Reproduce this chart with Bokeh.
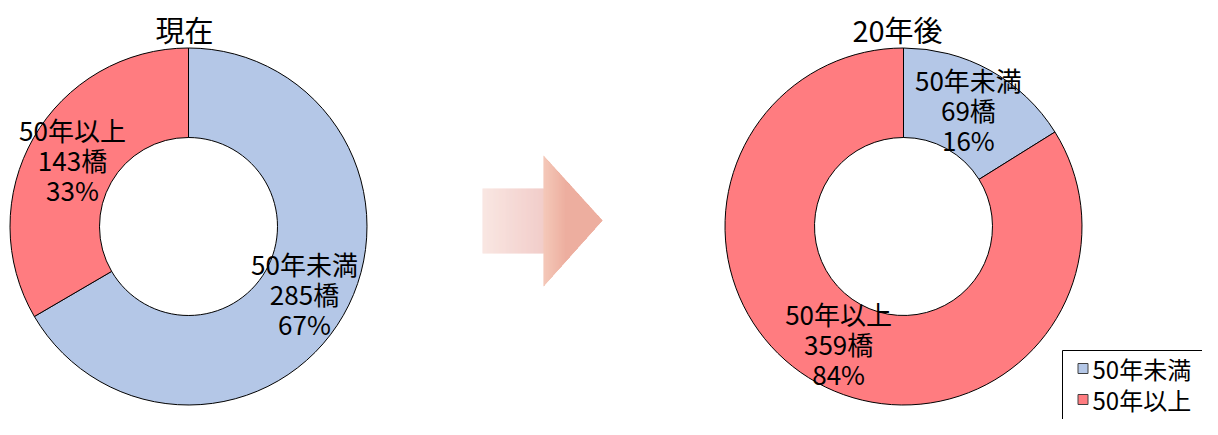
import math
from bokeh.plotting import figure
from bokeh.models import Range1d
from bokeh.core.properties import value
from bokeh.embed import file_html
from bokeh.resources import INLINE

# ---- data ----
categories = ["50年未満", "50年以上"]
titles = ["現在", "20年後"]
counts_now = [285, 143]
counts_future = [69, 359]
colors = ["#B4C7E7", "#FF7C80"]

FONT = "Noto Sans CJK JP"
W, H = 1202, 419

p = figure(width=W, height=H, output_backend="svg", toolbar_location=None,
           x_range=Range1d(0, W), y_range=Range1d(-H, 0),
           min_border=0, outline_line_color=None)
p.axis.visible = False
p.grid.visible = False
p.background_fill_color = "white"
p.border_fill_color = "white"

R_OUT, R_IN = 178.5, 89
centers = [(188, -226), (903, -226)]
title_x = [184, 897]


def donut(cx, cy, counts, title, tx):
    total = sum(counts)
    cum = 0.0
    for i, c in enumerate(counts):
        f0 = cum / total
        f1 = (cum + c) / total
        a0 = math.pi / 2 - 2 * math.pi * f0
        a1 = math.pi / 2 - 2 * math.pi * f1
        p.annular_wedge(x=[cx], y=[cy], inner_radius=R_IN, outer_radius=R_OUT,
                        start_angle=[a0], end_angle=[a1], direction="clock",
                        fill_color=colors[i], line_color="black", line_width=1)
        am = (a0 + a1) / 2
        rm = (R_IN + R_OUT) / 2
        lx = cx + rm * math.cos(am)
        ly = cy + rm * math.sin(am)
        lines = [categories[i], f"{c}橋", f"{round(100 * c / total)}%"]
        for k, t in enumerate(lines):
            p.text(x=[lx], y=[ly + 30 - 30 * k], text=[t], text_align="center",
                   text_baseline="middle", text_font=value(FONT),
                   text_font_size="26px", text_color="black")
        cum += c
    p.text(x=[tx], y=[-28], text=[title], text_align="center", text_baseline="middle",
           text_font=value(FONT), text_font_size="29px", text_color="black")


donut(centers[0][0], centers[0][1], counts_now, titles[0], title_x[0])
donut(centers[1][0], centers[1][1], counts_future, titles[1], title_x[1])

# ---- arrow with gradient ----
def lerp(c0, c1, t):
    return "#%02x%02x%02x" % tuple(int(round(a + (b - a) * t)) for a, b in zip(c0, c1))

x0, xs, xt = 482, 543, 602
shaft_top, shaft_bot = 188, 253
head_top, head_bot, tip_y = 155, 286, 220
c_left = (248, 226, 221)
c_mid = (239, 196, 192)
c_head0 = (242, 190, 172)
c_head1 = (234, 160, 142)
sx, sy, scol = [], [], []
for x in range(x0, xs):
    t = (x - x0) / (xs - x0)
    sx.append([x, x + 1.2, x + 1.2, x])
    sy.append([-shaft_top, -shaft_top, -shaft_bot, -shaft_bot])
    scol.append(lerp(c_left, c_mid, t))
for x in range(xs, xt):
    t = min(1.0, (x - xs) / 22.0)
    f0 = (x - xs) / (xt - xs)
    f1 = min(1.0, (x + 1.2 - xs) / (xt - xs))
    top0 = head_top + (tip_y - head_top) * f0
    bot0 = head_bot + (tip_y - head_bot) * f0
    top1 = head_top + (tip_y - head_top) * f1
    bot1 = head_bot + (tip_y - head_bot) * f1
    sx.append([x, x + 1.2, x + 1.2, x])
    sy.append([-top0, -top1, -bot1, -bot0])
    scol.append(lerp(c_head0, c_head1, t))
p.patches(xs=sx, ys=sy, fill_color=scol, line_color=None)

# ---- legend ----
p.quad(left=[1062], right=[1230], top=[-350], bottom=[-450],
       fill_color="white", line_color="black", line_width=1)
leg_y = [-368, -399]
for i, cat in enumerate(categories):
    p.rect(x=[1082.5], y=[leg_y[i]], width=[10], height=[10],
           fill_color=colors[i], line_color="#404040", line_width=1)
    p.text(x=[1092], y=[leg_y[i]], text=[cat], text_align="left",
           text_baseline="middle", text_font=value(FONT),
           text_font_size="24px", text_color="black")

open("out.html", "w").write(file_html(p, INLINE))
